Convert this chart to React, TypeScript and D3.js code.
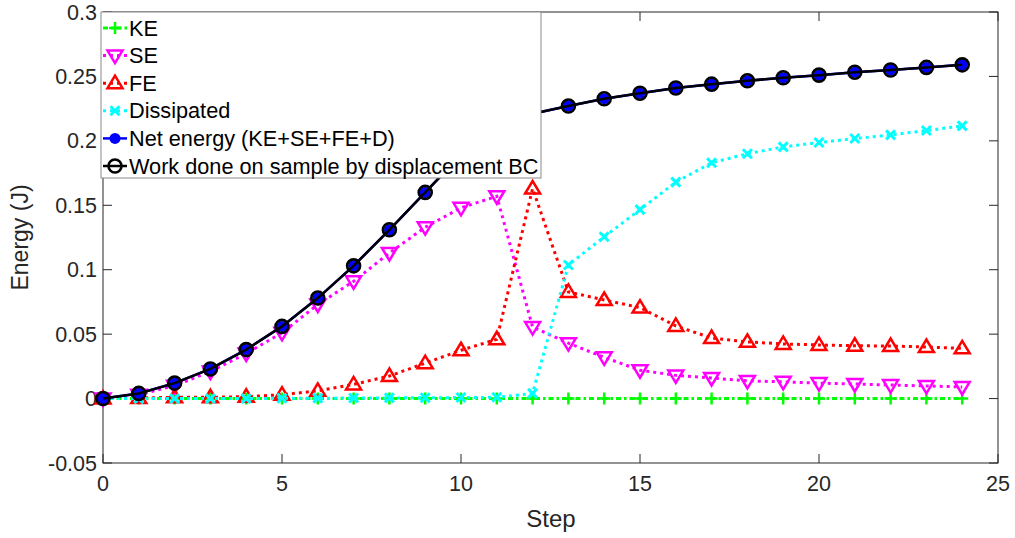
import React from "react"
import * as d3 from "d3"

const steps = d3.range(0, 25)
const keValues = steps.map(() => 0)
const seValues = [0, 0.003, 0.01, 0.021, 0.035, 0.051, 0.073, 0.091, 0.113, 0.133, 0.148, 0.157, 0.0555, 0.043, 0.032, 0.022, 0.018, 0.016, 0.0137, 0.013, 0.012, 0.0113, 0.0105, 0.0098, 0.009]
const feValues = [0, 0.0005, 0.001, 0.001, 0.0015, 0.003, 0.006, 0.011, 0.0175, 0.0275, 0.0375, 0.046, 0.163, 0.0828, 0.0765, 0.0706, 0.0564, 0.047, 0.044, 0.0424, 0.0416, 0.041, 0.0408, 0.04, 0.039]
const dissValues = [0, 0, 0, 0, 0, 0.0002, 0.0003, 0.0004, 0.0005, 0.0006, 0.0008, 0.001, 0.004, 0.1037, 0.1256, 0.1466, 0.168, 0.183, 0.19, 0.1953, 0.1987, 0.2018, 0.2046, 0.208, 0.2116]
const netValues = [0, 0.004, 0.012, 0.023, 0.038, 0.056, 0.078, 0.103, 0.131, 0.16, 0.189, 0.207, 0.221, 0.227, 0.2327, 0.237, 0.241, 0.244, 0.2466, 0.249, 0.251, 0.2533, 0.255, 0.257, 0.259]
const workValues = netValues.slice()

const xTicks = [0, 5, 10, 15, 20, 25]
const yTicks = [-0.05, 0, 0.05, 0.1, 0.15, 0.2, 0.25, 0.3]
const yTickLabels = ["-0.05", "0", "0.05", "0.1", "0.15", "0.2", "0.25", "0.3"]
const legendLabels = ["KE", "SE", "FE", "Dissipated", "Net energy (KE+SE+FE+D)", "Work done on sample by displacement BC"]

const left = 103
const right = 998
const top = 12
const bottom = 463
const font = "'Liberation Sans', Arial, sans-serif"
const axisColor = "#262626"

const x = d3.scaleLinear().domain([0, 25]).range([left, right])
const y = d3.scaleLinear().domain([-0.05, 0.3]).range([bottom, top])

type Kind = "plus" | "down" | "up" | "cross" | "star" | "circle"

function Marker({ kind, cx, cy, color }: { kind: Kind; cx: number; cy: number; color: string }) {
  if (kind === "plus") {
    return <path d={`M${cx - 6},${cy}H${cx + 6}M${cx},${cy - 6}V${cy + 6}`} stroke={color} strokeWidth={2.5} fill="none" />
  }
  if (kind === "cross") {
    return <path d={`M${cx - 4.5},${cy - 4.5}L${cx + 4.5},${cy + 4.5}M${cx - 4.5},${cy + 4.5}L${cx + 4.5},${cy - 4.5}`} stroke={color} strokeWidth={3} fill="none" />
  }
  if (kind === "down") {
    return <path d={`M${cx - 7.5},${cy - 5}L${cx + 7.5},${cy - 5}L${cx},${cy + 7.5}Z`} stroke={color} strokeWidth={2.5} fill="none" />
  }
  if (kind === "up") {
    return <path d={`M${cx - 7.5},${cy + 5}L${cx + 7.5},${cy + 5}L${cx},${cy - 7.5}Z`} stroke={color} strokeWidth={2.5} fill="none" />
  }
  if (kind === "star") {
    return <circle cx={cx} cy={cy} r={5.5} fill={color} />
  }
  return <circle cx={cx} cy={cy} r={6.5} stroke={color} strokeWidth={2.6} fill="none" />
}

const series: { values: number[]; color: string; dash: string; kind: Kind; width: number }[] = [
  { values: keValues, color: "#00ff00", dash: "5,3,2.5,3", kind: "plus", width: 3 },
  { values: seValues, color: "#ff00ff", dash: "3,4", kind: "down", width: 3 },
  { values: feValues, color: "#ff0000", dash: "3,4", kind: "up", width: 3 },
  { values: dissValues, color: "#00ffff", dash: "3,4", kind: "cross", width: 3 },
  { values: netValues, color: "#0000ff", dash: "none", kind: "star", width: 2.5 },
  { values: workValues, color: "#000000", dash: "none", kind: "circle", width: 2.5 },
]

export default function App() {
  const line = d3
    .line<number>()
    .x((d, i) => x(steps[i]))
    .y((d) => y(d))

  const legX = 101
  const legY = 12
  const rowH = 27.6

  return (
    <svg width={1015} height={538} style={{ position: "absolute", left: 0, top: 0, background: "#fff" }} fontFamily={font}>
      <rect x={0} y={0} width={1015} height={538} fill="#fff" />
      {xTicks.map((t) => (
        <g key={"xt" + t}>
          <line x1={x(t)} x2={x(t)} y1={bottom} y2={bottom - 9} stroke={axisColor} />
          <line x1={x(t)} x2={x(t)} y1={top} y2={top + 9} stroke={axisColor} />
          <text x={x(t)} y={bottom + 28} fontSize={21.5} textAnchor="middle" fill={axisColor}>
            {t}
          </text>
        </g>
      ))}
      {yTicks.map((t, i) => (
        <g key={"yt" + t}>
          <line x1={left} x2={left + 9} y1={y(t)} y2={y(t)} stroke={axisColor} />
          <line x1={right} x2={right - 9} y1={y(t)} y2={y(t)} stroke={axisColor} />
          <text x={left - 6} y={y(t) + 7.5} fontSize={21.5} textAnchor="end" fill={axisColor}>
            {yTickLabels[i]}
          </text>
        </g>
      ))}
      <rect x={left} y={top} width={right - left} height={bottom - top} fill="none" stroke={axisColor} />

      {series.map((s, si) => (
        <g key={"s" + si}>
          <path d={line(s.values) || ""} fill="none" stroke={s.color} strokeWidth={s.width} strokeDasharray={s.dash} />
          {s.values.map((v, i) => (
            <Marker key={i} kind={s.kind} cx={x(steps[i])} cy={y(v)} color={s.color} />
          ))}
        </g>
      ))}

      <text x={551} y={527} fontSize={24} textAnchor="middle" fill={axisColor}>
        Step
      </text>
      <text transform={`translate(28,${(top + bottom) / 2}) rotate(-90)`} fontSize={23} textAnchor="middle" fill={axisColor}>
        Energy (J)
      </text>

      <rect x={legX} y={legY} width={440} height={166} fill="#fff" stroke="#8a8a8a" />
      {series.map((s, i) => {
        const cy = legY + 16 + i * rowH
        return (
          <g key={"leg" + i}>
            <line x1={legX + 2} x2={legX + 26} y1={cy} y2={cy} stroke={s.color} strokeWidth={s.width} strokeDasharray={s.dash} />
            <Marker kind={s.kind} cx={legX + 14} cy={cy} color={s.color} />
            <text x={legX + 28} y={cy + 7.5} fontSize={21.7} fill="#000">
              {legendLabels[i]}
            </text>
          </g>
        )
      })}
    </svg>
  )
}
